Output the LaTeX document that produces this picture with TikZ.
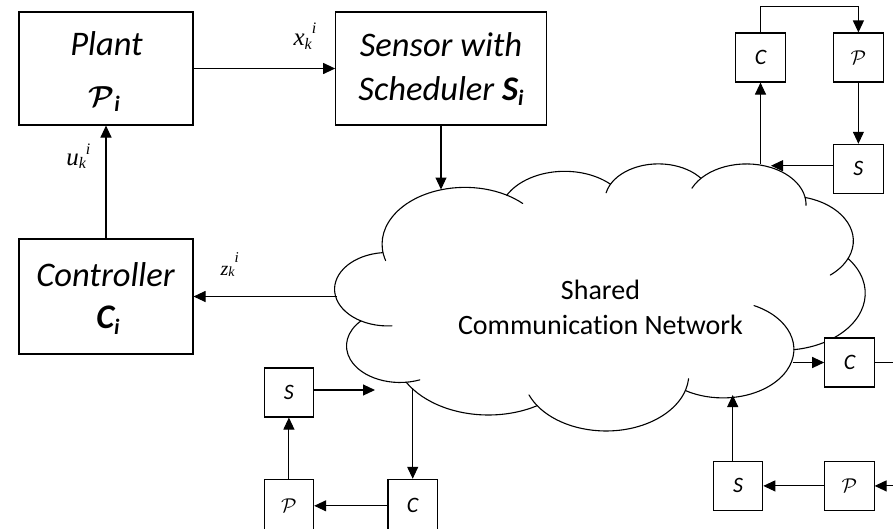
\documentclass[tikz,border=0pt]{standalone}
\usepackage{amsmath}
\usepackage{fontspec}
\setmainfont{Carlito}[Ligatures=NoCommon]
\newfontfamily\lblfont{Liberation Serif}
\usetikzlibrary{arrows.meta}
\newcommand\bigcalP{{\fontsize{10}{10}\selectfont\scalebox{2.9}{$\boldsymbol{\mathcal{P}}$}}}
\newcommand\smallcalP{{\fontsize{10}{10}\selectfont\scalebox{2.0}{$\mathcal{P}$}}}
% Office-style cloud arc: wR, hR, start (visual deg), sweep, draw-from, draw-to
\newcommand\cloudarc[6]{%
  \pgfmathsetmacro\cldA{#3}%
  \pgfmathsetmacro\cldB{#3+#4}%
  \pgfmathsetmacro\cldtmp{atan2(#1*sin(\cldA),#2*cos(\cldA))-\cldA}%
  \pgfmathsetmacro\cldpA{\cldA+\cldtmp-360*round(\cldtmp/360)}%
  \pgfmathsetmacro\cldtmp{atan2(#1*sin(\cldB),#2*cos(\cldB))-\cldB}%
  \pgfmathsetmacro\cldpB{\cldB+\cldtmp-360*round(\cldtmp/360)}%
  \pgfmathsetmacro\cldtmp{atan2(#1*sin(#5),#2*cos(#5))-(#5)}%
  \pgfmathsetmacro\cldpS{#5+\cldtmp-360*round(\cldtmp/360)}%
  \pgfmathsetmacro\cldtmp{atan2(#1*sin(#6),#2*cos(#6))-(#6)}%
  \pgfmathsetmacro\cldpE{#6+\cldtmp-360*round(\cldtmp/360)}%
  \pgfmathsetmacro\cldcx{\cldX-#1*cos(\cldpA)}%
  \pgfmathsetmacro\cldcy{\cldY-#2*sin(\cldpA)}%
  \draw[cloudline] (\cldcx,\cldcy) ++(\cldpS:#1 and #2) arc[start angle=\cldpS, end angle=\cldpE, x radius=#1, y radius=#2];
  \pgfmathsetmacro\cldnx{\cldcx+#1*cos(\cldpB)}%
  \pgfmathsetmacro\cldny{\cldcy+#2*sin(\cldpB)}%
  \global\let\cldX\cldnx
  \global\let\cldY\cldny
}
\begin{document}
\begin{tikzpicture}[x=1pt,y=1pt,yscale=-1,
  line width=1.1pt,
  box/.style={draw, line width=1.1pt, inner sep=0pt, fill=white},
  smallbox/.style={box, minimum width=49.5pt, minimum height=49pt, font=\fontsize{22}{22}\selectfont\itshape},
  arr/.style={-{Triangle[length=12pt,width=11pt]}},
  cloudline/.style={line width=1.1pt, line cap=round},
  boxtext/.style={anchor=base, inner sep=0pt, font=\fontsize{34.5}{40}\selectfont\itshape},
  cloudtext/.style={anchor=base, inner sep=0pt, font=\fontsize{28}{34}\selectfont},
  lbl/.style={anchor=base west, inner sep=0pt, font=\lblfont\itshape}
]
\useasboundingbox (0,0) rectangle (893,528);

% cloud
\begin{scope}[shift={(335,163)}, xscale=1.226852, yscale=0.618056]
\gdef\cldX{39.00}\gdef\cldY{143.70}
\cloudarc{67.53}{91.90}{-190.4875}{123.7805}{-202.3456}{-54.3876}
\cloudarc{53.33}{72.67}{-144.1024}{89.9452}{-144.1024}{-54.1572}
\cloudarc{43.65}{59.45}{-145.8079}{99.7230}{-163.4943}{-46.0849}
\cloudarc{48.57}{65.95}{-130.9861}{117.2417}{-149.1815}{1.1146}
\cloudarc{53.33}{72.73}{-78.7089}{109.0269}{-78.7089}{58.0695}
\cloudarc{67.75}{92.20}{-46.2673}{130.2690}{-46.2673}{84.0017}
\cloudarc{57.85}{78.67}{0.6250}{114.0333}{-70.2924}{114.6583}
\cloudarc{67.52}{92.15}{22.4516}{115.1726}{6.4533}{151.7053}
\cloudarc{77.20}{105.43}{66.2426}{75.7110}{66.2426}{141.9536}
\cloudarc{43.60}{59.18}{-274.9421}{146.7356}{-286.3895}{-128.2065}
\cloudarc{43.45}{59.45}{-246.8285}{152.5189}{-273.2580}{-94.3096}
\end{scope}
\node[cloudtext] (netA) at (600.5,299) {Shared};
\node[cloudtext] (netB) at (600.5,334.6) {Communication Network};

% cloud attachment points
\coordinate (cS) at (441,189.5);
\coordinate (cZ) at (336.6,296.5);
\coordinate (cS1) at (771,165.7);
\coordinate (cC1) at (760.5,163.5);
\coordinate (cR) at (793,362.5);
\coordinate (cBR) at (732.7,395);
\coordinate (cL) at (375,390);
\coordinate (cB) at (412.7,388);
\coordinate (eR1) at (893,362.5);
\coordinate (eR2) at (893,485.9);

% main boxes
\node[box, minimum width=174pt, minimum height=113pt] (plant) at (106,68.5) {};
\node[box, minimum width=210.6pt, minimum height=113pt] (sensor) at (441,68.5) {};
\node[box, minimum width=174pt, minimum height=115pt] (ctrl) at (106,296.5) {};

\node[boxtext] (plantA) at (106.5,55.7) {Plant};
\node[boxtext] (plantB) at (104,106) {\bigcalP\raisebox{-5pt}{\fontsize{22}{22}\selectfont\bfseries\itshape i}};
\node[boxtext] (sensA) at (441,56) {Sensor with};
\node[boxtext] (sensB) at (441,100) {Scheduler {\bfseries S}\raisebox{-5pt}{\fontsize{22}{22}\selectfont\bfseries\itshape i}};
\node[boxtext] (ctrlA) at (105.5,286.7) {Controller};
\node[boxtext] (ctrlB) at (108,328.3) {{\bfseries C}\raisebox{-6pt}{\fontsize{22}{22}\selectfont\bfseries\itshape i}};

% signal labels
\node[lbl] (lx) at (293,45) {\fontsize{25}{25}\selectfont x\raisebox{-4pt}{\fontsize{16}{16}\selectfont k}\raisebox{12pt}{\fontsize{16}{16}\selectfont i}};
\node[lbl] (lu) at (65.7,165) {\fontsize{25}{25}\selectfont u\raisebox{-3pt}{\fontsize{16}{16}\selectfont k}\raisebox{11pt}{\fontsize{16}{16}\selectfont i}};
\node[lbl] (lz) at (220,275) {\fontsize{20}{20}\selectfont z\raisebox{-1pt}{\fontsize{14}{14}\selectfont k}\raisebox{13pt}{\fontsize{15}{15}\selectfont i}};

% small boxes
\node[smallbox] (C1) at (760.5,57.5) {C};
\node[smallbox] (P1) at (858.4,57.5) {\smallcalP};
\node[smallbox] (S1) at (858.4,168.8) {S};
\node[smallbox] (S2) at (288.9,392.5) {S};
\node[smallbox, minimum height=53pt] (P2) at (288.9,505.8) {\smallcalP};
\node[smallbox, minimum height=53pt] (C2) at (412.7,505.8) {C};
\node[smallbox] (C3) at (849.5,362.5) {C};
\node[smallbox] (S3) at (738,485.9) {S};
\node[smallbox] (P3) at (849.3,485.9) {\smallcalP};

% connectors
\draw[arr] (plant.east) -- (sensor.west);
\draw[arr] (sensor.south) -- (cS);
\draw[arr] (ctrl.north) -- (plant.south);
\draw[arr] (cZ) -- (ctrl.east);
\draw[arr] (C1.north) -- ++(0,-26) -| (P1.north);
\draw[arr] (P1.south) -- (S1.north);
\draw[arr] (S1.west |- cS1) -- (cS1);
\draw[arr] (cC1) -- (C1.south);
\draw[arr] (cR) -- (C3.west);
\draw (C3.east) -- (eR1);
\draw[arr] (eR2) -- (P3.east);
\draw[arr] (P3.west) -- (S3.east);
\draw[arr] (S3.north -| cBR) -- (cBR);
\draw[arr] (S2.east |- cL) -- (cL);
\draw[arr] (cB) -- (C2.north);
\draw[arr] (C2.west) -- (P2.east);
\draw[arr] (P2.north) -- (S2.south);
\end{tikzpicture}
\end{document}
